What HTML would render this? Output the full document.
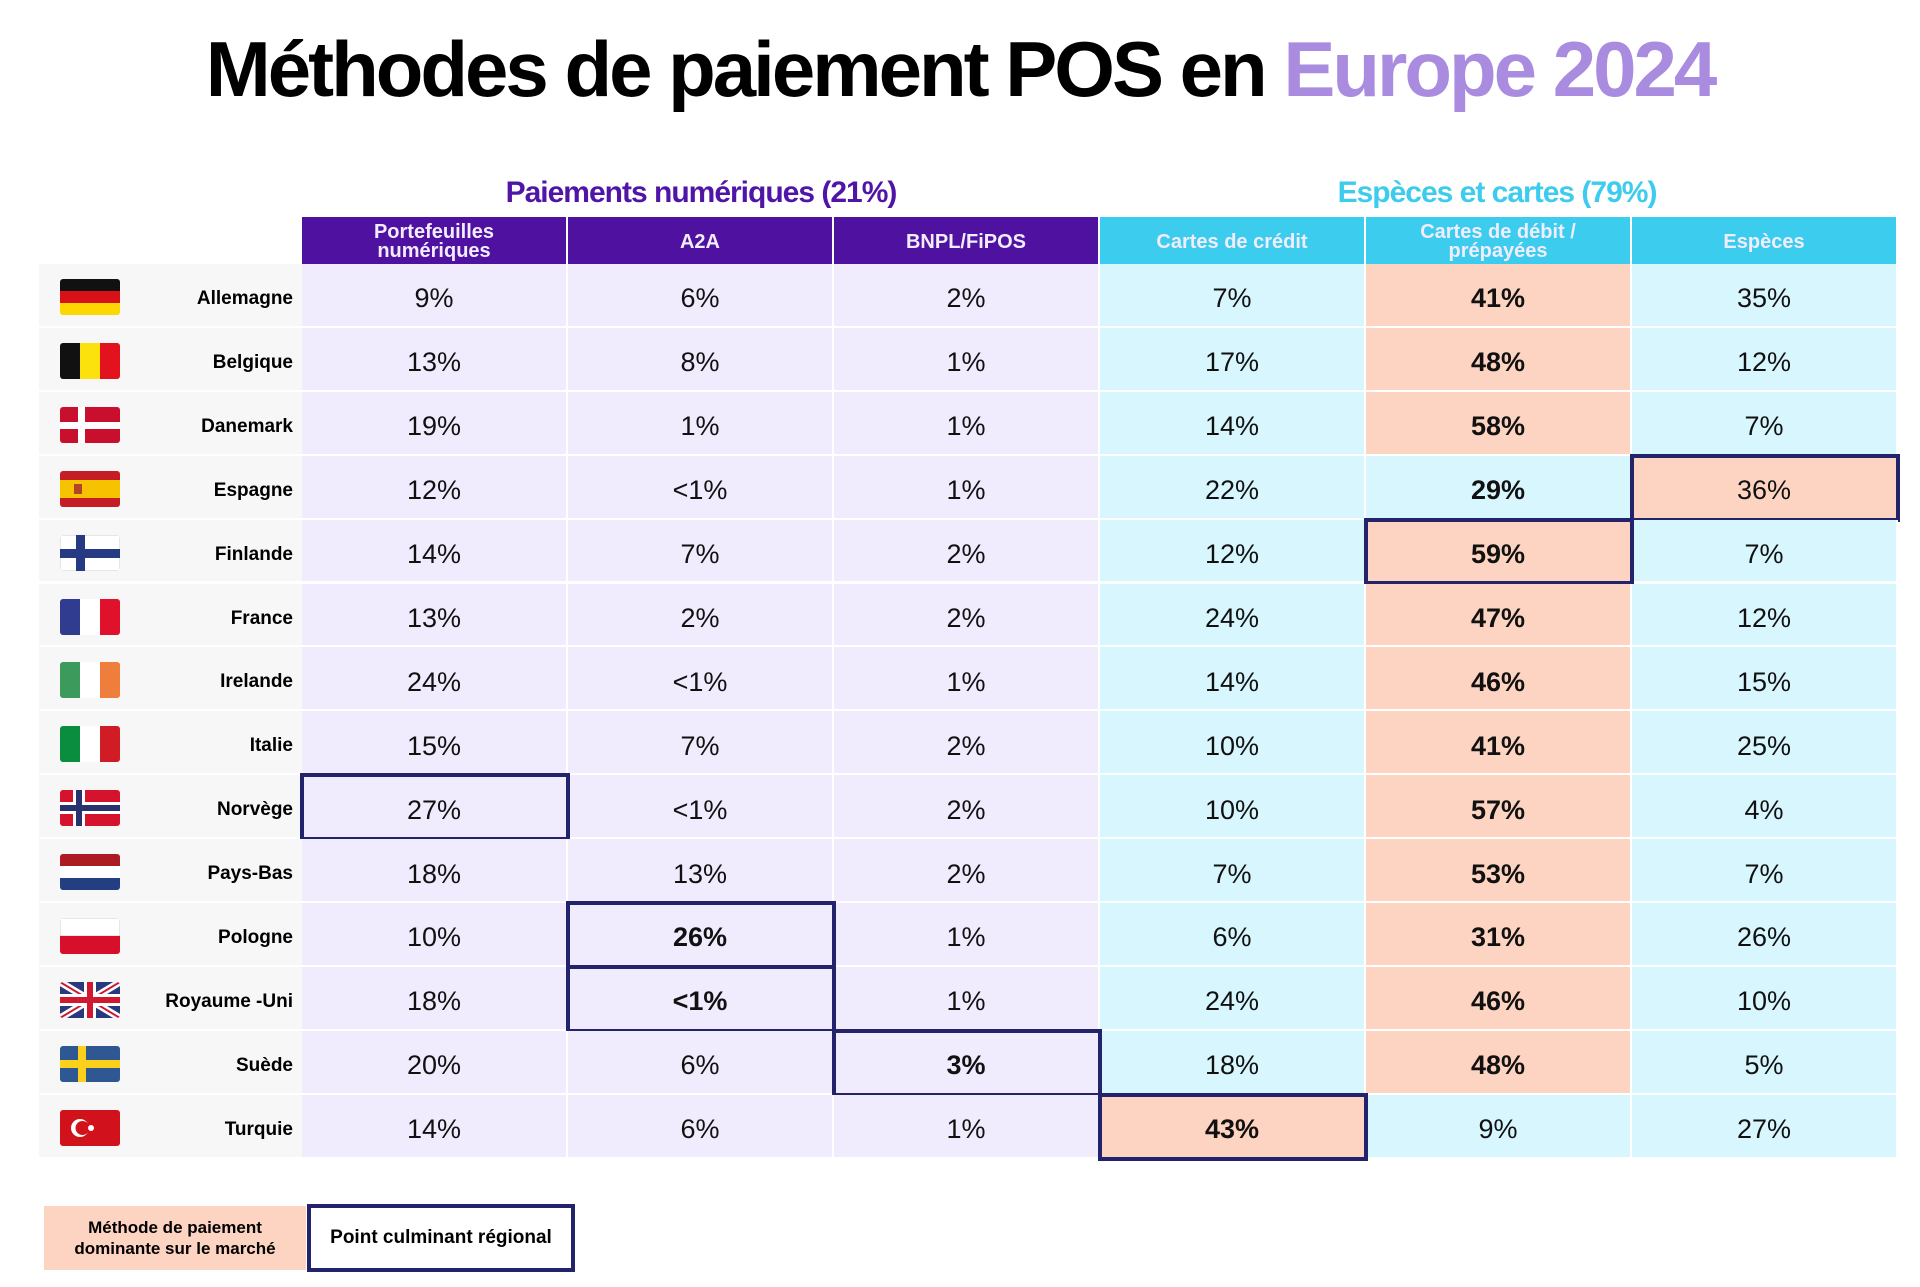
<!DOCTYPE html>
<html><head><meta charset="utf-8">
<style>
body{margin:0;width:1920px;height:1287px;background:#fff;font-family:"Liberation Sans",sans-serif;position:relative;overflow:hidden}
.abs{position:absolute}
#title{left:0;top:24px;width:1920px;text-align:center;font-weight:bold;font-size:78px;letter-spacing:-3px;color:#000;white-space:nowrap}
#title span{color:#a98be0}
.grp{font-weight:bold;font-size:30px;letter-spacing:-1px;text-align:center;top:176px}
.hd{top:217px;height:47px;color:#f2ecff;font-weight:bold;font-size:20px;display:flex;align-items:center;justify-content:center;text-align:center;line-height:19px;box-sizing:border-box;border-right:2px solid #fff;padding-top:3px}
.cell{display:flex;align-items:center;justify-content:center;font-size:27px;color:#111;box-sizing:border-box;border-right:2px solid #fff;border-bottom:2px solid #fff;padding-top:8px}
.name{font-weight:bold;font-size:19px;text-align:right;width:200px;left:93px}
.box{border:4px solid #23236b;box-sizing:border-box}
</style></head><body>
<div id="title" class="abs">Méthodes de paiement POS en <span>Europe 2024</span></div>
<div class="abs grp" style="left:302px;width:798px;color:#5014a6">Paiements numériques (21%)</div>
<div class="abs grp" style="left:1098px;width:798px;color:#3dcbee">Espèces et cartes (79%)</div>
<div id="table"></div>
<div class="abs" style="left:44px;top:1206px;width:262px;height:64px;background:#fdd3c1;font-weight:bold;font-size:17px;display:flex;align-items:center;justify-content:center;text-align:center;line-height:21px">Méthode de paiement<br>dominante sur le marché</div>
<div class="abs box" style="left:307px;top:1204px;width:268px;height:68px;font-weight:bold;font-size:19px;display:flex;align-items:center;justify-content:center">Point culminant régional</div>
<script>
const columns=["Portefeuilles<br>numériques","A2A","BNPL/FiPOS","Cartes de crédit","Cartes de débit /<br>prépayées","Espèces"];
const countries=["Allemagne","Belgique","Danemark","Espagne","Finlande","France","Irelande","Italie","Norvège","Pays-Bas","Pologne","Royaume -Uni","Suède","Turquie"];
const wallets=["9%","13%","19%","12%","14%","13%","24%","15%","27%","18%","10%","18%","20%","14%"];
const a2a=["6%","8%","1%","<1%","7%","2%","<1%","7%","<1%","13%","26%","<1%","6%","6%"];
const bnpl=["2%","1%","1%","1%","2%","2%","1%","2%","2%","2%","1%","1%","3%","1%"];
const credit=["7%","17%","14%","22%","12%","24%","14%","10%","10%","7%","6%","24%","18%","43%"];
const debit=["41%","48%","58%","29%","59%","47%","46%","41%","57%","53%","31%","46%","48%","9%"];
const cash=["35%","12%","7%","36%","7%","12%","15%","25%","4%","7%","26%","10%","5%","27%"];
const dominantCol=[4,4,4,5,4,4,4,4,4,4,4,4,4,3];
const highlightCol=[-1,-1,-1,5,4,-1,-1,-1,0,-1,1,1,2,3];
const series=[wallets,a2a,bnpl,credit,debit,cash];
const flags={
"Allemagne":'<rect width="60" height="12" fill="#111"/><rect y="12" width="60" height="12" fill="#d81118"/><rect y="24" width="60" height="12" fill="#fcd700"/>',
"Belgique":'<rect width="20" height="36" fill="#111"/><rect x="20" width="20" height="36" fill="#fbe20c"/><rect x="40" width="20" height="36" fill="#e3121f"/>',
"Danemark":'<rect width="60" height="36" fill="#c8102e"/><rect x="18" width="7" height="36" fill="#fff"/><rect y="15" width="60" height="7" fill="#fff"/>',
"Espagne":'<rect width="60" height="36" fill="#c41e24"/><rect y="9" width="60" height="18" fill="#f7c300"/><rect x="14" y="13" width="8" height="10" fill="#b1452a"/>',
"Finlande":'<rect width="60" height="36" fill="#fff" stroke="#ccc"/><rect x="16" width="9" height="36" fill="#253a83"/><rect y="14" width="60" height="9" fill="#253a83"/>',
"France":'<rect width="20" height="36" fill="#2f3c8f"/><rect x="20" width="20" height="36" fill="#fff"/><rect x="40" width="20" height="36" fill="#e0112b"/>',
"Irelande":'<rect width="20" height="36" fill="#3d9a5d"/><rect x="20" width="20" height="36" fill="#fff"/><rect x="40" width="20" height="36" fill="#ef7e3c"/>',
"Italie":'<rect width="20" height="36" fill="#0a8d3e"/><rect x="20" width="20" height="36" fill="#fff"/><rect x="40" width="20" height="36" fill="#d01c25"/>',
"Norvège":'<rect width="60" height="36" fill="#d6132d"/><rect x="13" width="12" height="36" fill="#fff"/><rect y="12" width="60" height="12" fill="#fff"/><rect x="16" width="6" height="36" fill="#28326e"/><rect y="15" width="60" height="6" fill="#28326e"/>',
"Pays-Bas":'<rect width="60" height="12" fill="#ac1b22"/><rect y="12" width="60" height="12" fill="#fff"/><rect y="24" width="60" height="12" fill="#233f82"/>',
"Pologne":'<rect width="60" height="18" fill="#fff" stroke="#ccc"/><rect y="18" width="60" height="18" fill="#d6102b"/>',
"Royaume -Uni":'<rect width="60" height="36" fill="#283a7c"/><path d="M0 0L60 36M60 0L0 36" stroke="#fff" stroke-width="7"/><path d="M0 0L60 36M60 0L0 36" stroke="#d0182f" stroke-width="2"/><rect x="24" width="12" height="36" fill="#fff"/><rect y="12" width="60" height="12" fill="#fff"/><rect x="27" width="6" height="36" fill="#d0182f"/><rect y="15" width="60" height="6" fill="#d0182f"/>',
"Suède":'<rect width="60" height="36" fill="#2f5794"/><rect x="18" width="8" height="36" fill="#fcd11b"/><rect y="14" width="60" height="8" fill="#fcd11b"/>',
"Turquie":'<rect width="60" height="36" fill="#d1121d"/><circle cx="20" cy="18" r="9" fill="#fff"/><circle cx="22.5" cy="18" r="7" fill="#d1121d"/><circle cx="31" cy="18" r="3" fill="#fff"/>'
};
const T=document.getElementById('table');
const colX0=302,colW=266,hdrTop=217,rowTop=264,rowH=63.9;
function cx(c){return colX0+c*colW;}
function ry(r){return rowTop+r*rowH;}
columns.forEach((c,i)=>{
 const d=document.createElement('div');d.className='abs hd';
 d.style.left=cx(i)+'px';d.style.width=colW+'px';
 d.style.background=i<3?'#4f12a0':'#3ccdee';
 d.innerHTML=c;
 
 
 T.appendChild(d);
});
countries.forEach((n,r)=>{
 const bg=document.createElement('div');bg.className='abs';
 bg.style.cssText=`left:39px;top:${ry(r)}px;width:263px;height:${rowH-2}px;background:#f7f7f7`;
 
 
 T.appendChild(bg);
 const f=document.createElement('div');f.className='abs';
 f.style.cssText=`left:60px;top:${ry(r)+15}px;width:60px;height:36px;border-radius:3px;overflow:hidden`;
 f.innerHTML='<svg width="60" height="36" viewBox="0 0 60 36">'+flags[n]+'</svg>';
 
 
 T.appendChild(f);
 const nm=document.createElement('div');nm.className='abs name';
 nm.style.top=(ry(r)+24)+'px';nm.textContent=n;
 
 
 T.appendChild(nm);
 series.forEach((s,c)=>{
  const d=document.createElement('div');d.className='abs cell';
  const dom=dominantCol[r]===c;
  d.style.left=cx(c)+'px';d.style.top=ry(r)+'px';d.style.width=colW+'px';d.style.height=rowH+'px';
  d.style.background=dom?'#fdd3c1':(c<3?'#f1ecfd':'#d8f6fe');
  if(c===4||(highlightCol[r]===c&&c!==5&&c!==0))d.style.fontWeight='bold';
  if(c===4&&!dom&&r===13)d.style.fontWeight='normal';
  d.textContent=s[r];
  
  
  T.appendChild(d);
 });
 if(highlightCol[r]>=0){
  const b=document.createElement('div');b.className='abs box';
  b.style.cssText=`left:${cx(highlightCol[r])-2}px;top:${ry(r)-2}px;width:${colW+4}px;height:${rowH+4}px`;
  
  
  T.appendChild(b);
 }
});
</script>
</body></html>
